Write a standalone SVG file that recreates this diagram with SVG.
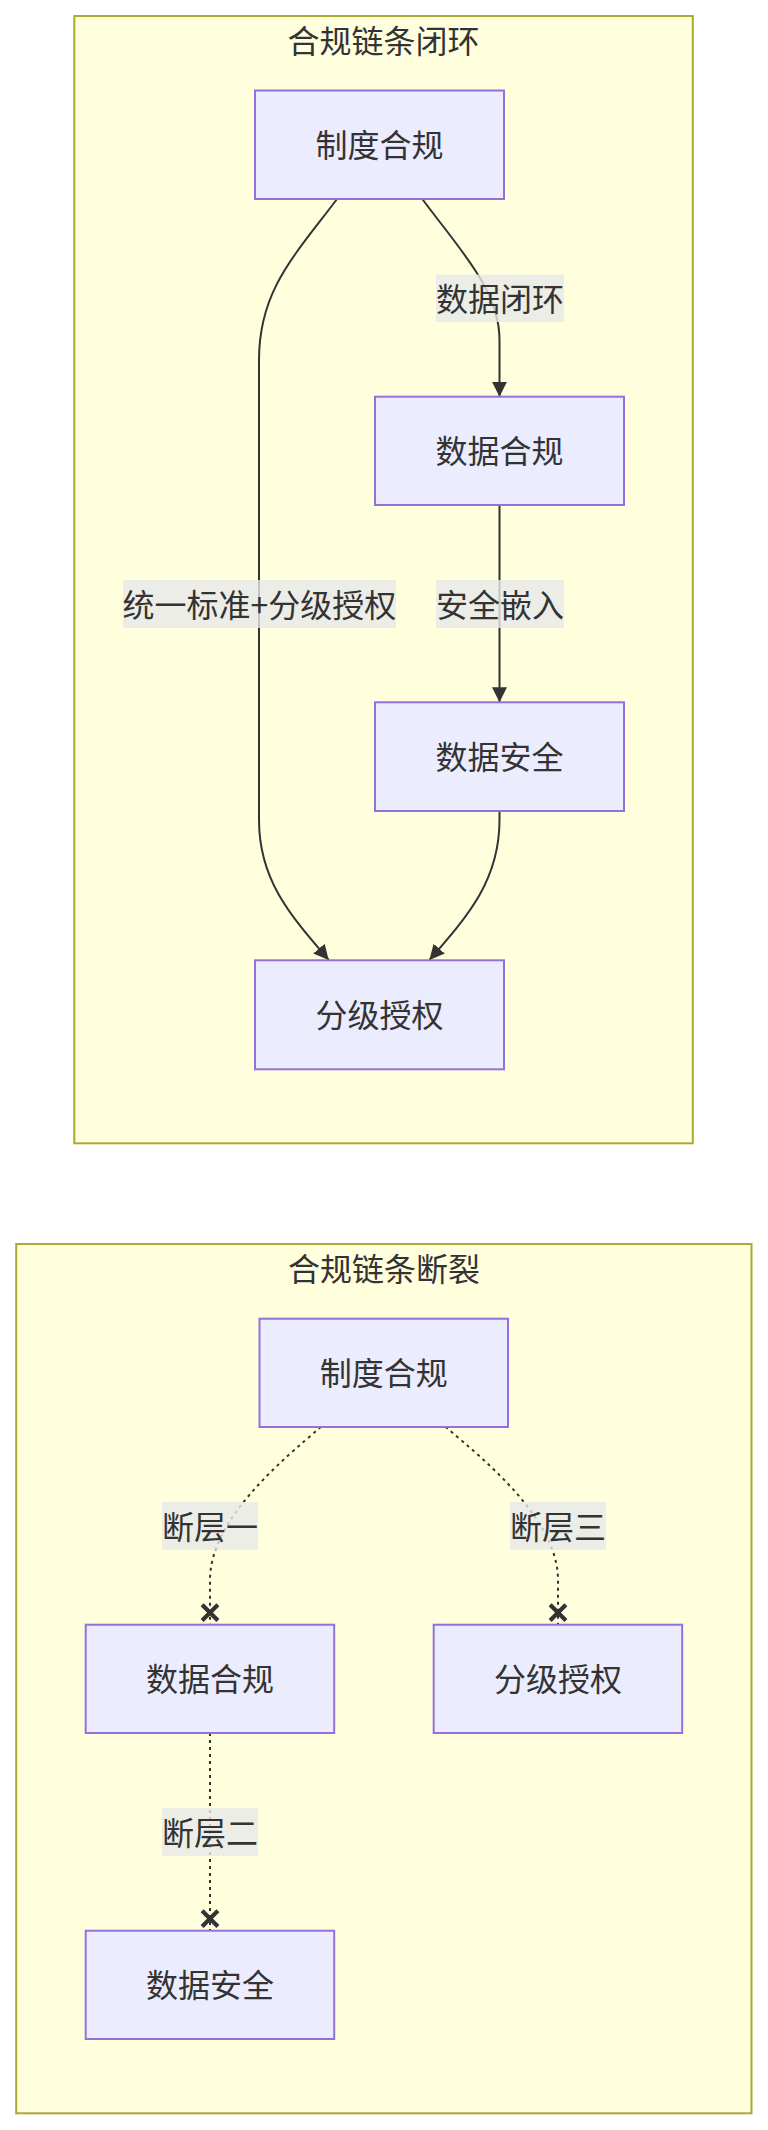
<svg xmlns="http://www.w3.org/2000/svg" width="768" height="2130" viewBox="0 0 768 2130">
<style>
.cluster{fill:#ffffde;stroke:#aaaa33;stroke-width:2}
.node rect{fill:#ececff;stroke:#9370db;stroke-width:2}
text{font-family:"Noto Sans CJK SC","Noto Sans",sans-serif;font-size:32px;fill:#333333;text-anchor:middle}
.edge{fill:none;stroke:#333333;stroke-width:2}
.dotted{stroke-dasharray:3 4}
.lbl rect{fill:rgba(232,232,232,0.8)}
</style>
<defs>
<marker id="arrow" viewBox="0 0 10 10" refX="10" refY="5" markerUnits="userSpaceOnUse" markerWidth="15" markerHeight="16" orient="auto">
<path d="M0,0 L10,5 L0,10 z" fill="#333333"/>
</marker>
<marker id="cross" viewBox="0 0 11 11" refX="12" refY="5.5" markerUnits="userSpaceOnUse" markerWidth="19.25" markerHeight="19.25" orient="auto" overflow="visible">
<path d="M1,1 L10,10 M10,1 L1,10" stroke="#333333" stroke-width="2.4" fill="none"/>
</marker>
</defs>
<rect width="768" height="2130" fill="#ffffff"/>

<g id="cluster-closed">
<rect class="cluster" x="74.3" y="16" width="618.5" height="1127.3"/>
<text x="383.5" y="52.5">合规链条闭环</text>
</g>
<g id="cluster-broken">
<rect class="cluster" x="16.2" y="1244" width="735.3" height="869.3"/>
<text x="384" y="1280.5">合规链条断裂</text>
</g>

<g id="connectors">
<path class="edge" d="M422.3,199 C460,250 499.5,290 499.5,340 L499.5,396.7" marker-end="url(#arrow)"/>
<path class="edge" d="M337,199 C295,255 259,290 259,360 L259,820 C259,880 290,915 328.7,960" marker-end="url(#arrow)"/>
<path class="edge" d="M499.5,505 L499.5,702.3" marker-end="url(#arrow)"/>
<path class="edge" d="M499.5,811 L499.5,820 C499.5,880 468.5,915 429.4,960" marker-end="url(#arrow)"/>
<path class="edge dotted" d="M320.8,1427 C280,1462 210,1520 210,1580 L210,1624" marker-end="url(#cross)"/>
<path class="edge dotted" d="M445.6,1427 C487,1462 558,1520 558,1580 L558,1624" marker-end="url(#cross)"/>
<path class="edge dotted" d="M210,1733 L210,1930" marker-end="url(#cross)"/>
<g class="lbl">
<rect x="436" y="274.5" width="128" height="47.5"/>
<text x="500" y="310.5">数据闭环</text>
<rect x="123" y="580" width="273" height="48"/>
<text x="259.5" y="616.5">统一标准+分级授权</text>
<rect x="436" y="580" width="128" height="48"/>
<text x="500" y="616.5">安全嵌入</text>
<rect x="162" y="1502" width="96" height="48"/>
<text x="210" y="1538.5">断层一</text>
<rect x="510" y="1502" width="96" height="48"/>
<text x="558" y="1538.5">断层三</text>
<rect x="162" y="1808" width="96" height="48"/>
<text x="210" y="1844.5">断层二</text>
</g>
</g>

<g id="node-policy-1" class="node">
<rect x="255" y="90.5" width="249" height="108.5"/>
<text x="379.5" y="157">制度合规</text>
</g>
<g id="node-data-compliance-1" class="node">
<rect x="375" y="396.7" width="249" height="108.3"/>
<text x="499.5" y="463">数据合规</text>
</g>
<g id="node-data-security-1" class="node">
<rect x="375" y="702.3" width="249" height="108.7"/>
<text x="499.5" y="769">数据安全</text>
</g>
<g id="node-grading-1" class="node">
<rect x="255" y="960.3" width="249" height="109"/>
<text x="379.5" y="1027">分级授权</text>
</g>

<g id="node-policy-2" class="node">
<rect x="259.5" y="1318.7" width="248.5" height="108.3"/>
<text x="383.7" y="1385">制度合规</text>
</g>
<g id="node-data-compliance-2" class="node">
<rect x="85.7" y="1624.7" width="248.5" height="108.3"/>
<text x="210" y="1691">数据合规</text>
</g>
<g id="node-grading-2" class="node">
<rect x="433.7" y="1624.7" width="248.5" height="108.3"/>
<text x="558" y="1691">分级授权</text>
</g>
<g id="node-data-security-2" class="node">
<rect x="85.7" y="1930.7" width="248.5" height="108.3"/>
<text x="210" y="1997">数据安全</text>
</g>
</svg>
